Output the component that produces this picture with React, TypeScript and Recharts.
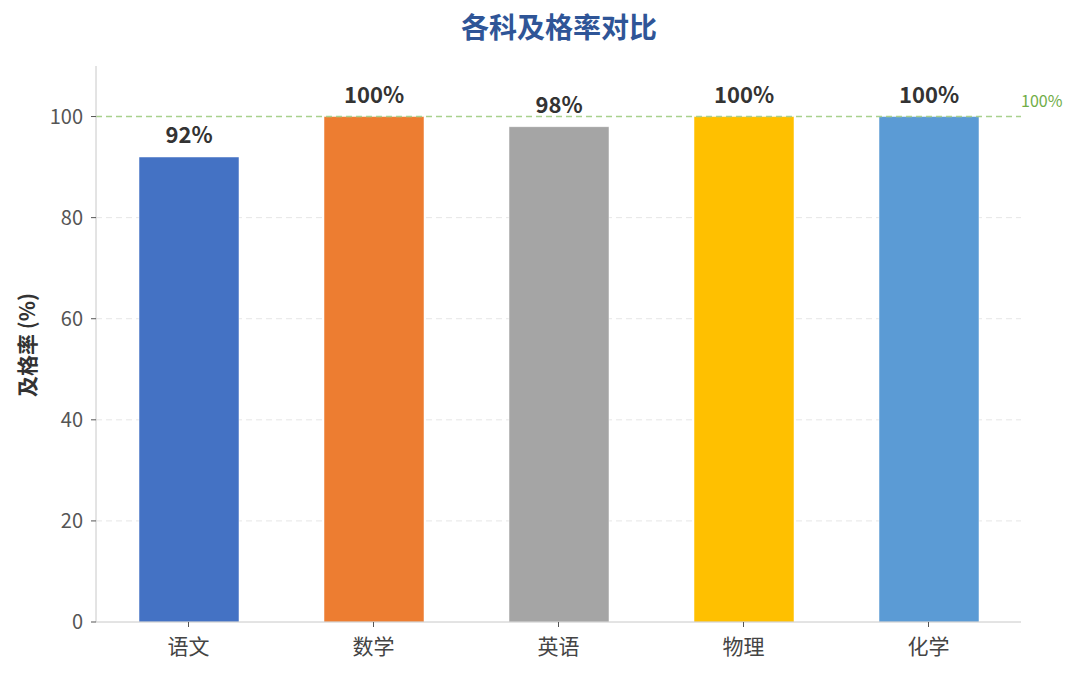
import React from "react";
import { BarChart, Bar, XAxis, YAxis, CartesianGrid, ReferenceLine, Cell, LabelList } from "recharts";

const subjects = ["语文", "数学", "英语", "物理", "化学"];
const passRates = [92, 100, 98, 100, 100];
const barColors = ["#4472C4", "#ED7D31", "#A5A5A5", "#FFC000", "#5B9BD5"];
const yTicks = [0, 20, 40, 60, 80, 100];
const gridValues = [20, 40, 60, 80];

const data = subjects.map((s, i) => ({ name: s, value: passRates[i] }));

const FONT = '"Noto Sans CJK SC", "Noto Sans", sans-serif';

const ValueLabel = (props: any) => {
  const { x, y, width, value } = props;
  return (
    <text x={x + width / 2} y={y - 14} textAnchor="middle" fontSize={22} fontWeight="bold" fill="#333" fontFamily={FONT}>
      {value}%
    </text>
  );
};

const RefLabel = (props: any) => {
  const vb = props.viewBox || {};
  return (
    <text x={vb.x + vb.width} y={vb.y - 10} textAnchor="start" fontSize={16} fill="#70AD47" fontFamily={FONT}>
      100%
    </text>
  );
};

export default function App() {
  return (
    <div style={{ position: "absolute", left: 0, top: 0, width: 1080, height: 674, background: "#fff", fontFamily: FONT }}>
      <div style={{ position: "absolute", left: 0, top: 6, width: 1118, textAlign: "center", fontSize: 28, fontWeight: "bold", color: "#2F5597", lineHeight: "40px" }}>
        各科及格率对比
      </div>
      <div style={{ position: "absolute", left: 26, top: 345, transform: "translate(-50%, -50%) rotate(-90deg)", fontSize: 21, fontWeight: "bold", color: "#333", whiteSpace: "nowrap" }}>
        及格率 (%)
      </div>
      <div style={{ position: "absolute", left: 0, top: 0 }}>
        <BarChart width={1080} height={674} data={data} margin={{ top: 66, right: 59, bottom: 22, left: 40 }}>
          <CartesianGrid vertical={false} stroke="#e6e6e6" strokeDasharray="6 4" horizontalValues={gridValues} />
          <XAxis
            dataKey="name"
            height={30}
            axisLine={{ stroke: "#c8c8c8" }}
            tickLine={{ stroke: "#555" }}
            tickSize={5}
            tick={{ fontSize: 21, fill: "#444", fontFamily: FONT }}
            tickMargin={12}
          />
          <YAxis
            width={56}
            domain={[0, 110]}
            ticks={yTicks}
            axisLine={{ stroke: "#c8c8c8" }}
            tickLine={{ stroke: "#555" }}
            tickSize={5}
            tickMargin={8}
            tick={{ fontSize: 20, fill: "#555", fontFamily: FONT }}
          />
          <ReferenceLine y={100} stroke="#A9D18E" strokeDasharray="6 4" strokeWidth={1.5} label={<RefLabel />} />
          <Bar dataKey="value" barSize={100} isAnimationActive={false} stroke="#ffffff" strokeOpacity={0.5} strokeWidth={1}>
            {data.map((d, i) => (
              <Cell key={d.name} fill={barColors[i]} />
            ))}
            <LabelList dataKey="value" content={<ValueLabel />} />
          </Bar>
        </BarChart>
      </div>
    </div>
  );
}
